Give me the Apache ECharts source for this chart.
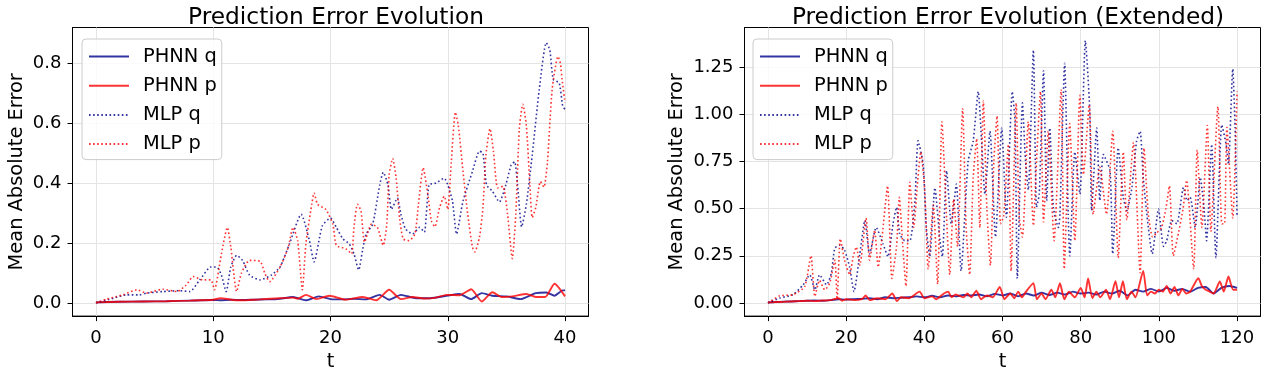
<!DOCTYPE html>
<html>
<head>
<meta charset="utf-8">
<script src="https://cdn.jsdelivr.net/npm/echarts@6/dist/echarts.min.js"></script>
<style>
html, body { margin: 0; padding: 0; background: #fff; }
#chart { width: 1270px; height: 376px; }
</style>
</head>
<body>
<div id="chart"></div>
<script>
// ---- data, [t, error] ----
const seriesNames = ['PHNN q', 'PHNN p', 'MLP q', 'MLP p']

const leftPhnnQ = [[0,0.002],[2,0.004],[4,0.005],[6,0.006],[8,0.008],[9,0.009],[10,0.01],[10.6,0.009],[11.5,0.011],[12.5,0.01],[13.5,0.011],[14.5,0.012],[15.5,0.013],[16.8,0.02],[17.9,0.009],[19,0.022],[20,0.013],[21,0.012],[22,0.014],[23,0.012],[24.2,0.027],[25,0.011],[26,0.027],[27.3,0.016],[28.5,0.016],[29.9,0.024],[31,0.03],[32,0.013],[32.9,0.033],[33.8,0.024],[35,0.022],[36.2,0.013],[37.5,0.033],[38.4,0.035],[39.1,0.024],[39.8,0.042],[40,0.042]]
const leftPhnnP = [[0,0.002],[2,0.004],[4,0.005],[6,0.006],[8,0.008],[10,0.011],[10.6,0.016],[12,0.009],[13,0.01],[14,0.012],[15.7,0.016],[16.8,0.018],[17.2,0.014],[17.9,0.027],[18.8,0.013],[19.9,0.024],[21.3,0.011],[22.75,0.02],[23.9,0.009],[25,0.044],[26,0.013],[27,0.02],[28,0.015],[29,0.018],[29.9,0.027],[31,0.026],[32,0.046],[32.9,0.005],[33.8,0.036],[34.6,0.02],[35.5,0.022],[36.7,0.03],[37.5,0.02],[38.3,0.02],[39.1,0.064],[40,0.022]]
const leftMlpQ = [[0,0],[1.5,0.016],[2.6,0.027],[3.7,0.027],[4.3,0.033],[5.7,0.038],[7.1,0.041],[8,0.038],[8.85,0.077],[9.8,0.12],[10.3,0.12],[10.7,0.093],[11.1,0.038],[11.5,0.12],[12,0.159],[12.5,0.142],[13.1,0.093],[14,0.077],[14.95,0.093],[15.7,0.12],[16.5,0.197],[17.5,0.296],[18.2,0.208],[18.6,0.137],[19.3,0.257],[20,0.283],[20.5,0.252],[21.05,0.214],[21.6,0.197],[22,0.164],[22.4,0.11],[22.75,0.18],[23.05,0.23],[23.6,0.263],[24.2,0.394],[24.5,0.436],[24.9,0.394],[25.2,0.312],[25.7,0.35],[26,0.296],[26.4,0.247],[27,0.23],[27.6,0.252],[28,0.236],[28.4,0.394],[29,0.4],[29.7,0.416],[30,0.394],[30.4,0.34],[30.75,0.23],[31.3,0.34],[32.1,0.438],[32.7,0.506],[33,0.5],[33.3,0.394],[33.8,0.373],[34.4,0.337],[34.95,0.394],[35.4,0.46],[35.7,0.471],[35.95,0.394],[36.3,0.254],[36.7,0.329],[37.2,0.493],[37.8,0.712],[38.4,0.868],[38.7,0.844],[39,0.745],[39.5,0.734],[39.8,0.657],[40,0.646]]
const leftMlpP = [[0,0],[0.9,0.013],[2.3,0.027],[3.5,0.044],[4.3,0.033],[5.7,0.046],[6.9,0.038],[7.7,0.06],[8.3,0.088],[9.1,0.077],[9.8,0.077],[10.1,0.044],[10.7,0.164],[11.2,0.252],[11.5,0.186],[12,0.038],[12.4,0.099],[13.1,0.142],[14,0.139],[14.4,0.099],[14.8,0.071],[15.7,0.12],[16.4,0.186],[16.8,0.252],[17.2,0.208],[17.6,0.044],[17.9,0.197],[18.4,0.329],[18.6,0.367],[18.9,0.329],[19.6,0.312],[20.2,0.263],[20.5,0.192],[21.3,0.181],[21.8,0.164],[22,0.252],[22.3,0.329],[22.6,0.307],[22.9,0.203],[23.5,0.263],[24,0.252],[24.5,0.192],[24.8,0.263],[25,0.427],[25.3,0.482],[25.6,0.416],[25.9,0.28],[26.2,0.214],[26.7,0.208],[27.2,0.23],[27.5,0.329],[27.9,0.451],[28.3,0.362],[28.6,0.274],[28.9,0.254],[29.3,0.318],[29.7,0.356],[30,0.312],[30.3,0.471],[30.65,0.636],[30.9,0.592],[31.3,0.438],[31.7,0.296],[32.1,0.186],[32.3,0.17],[32.7,0.219],[33,0.318],[33.25,0.493],[33.6,0.581],[33.9,0.504],[34.25,0.384],[34.7,0.389],[35.1,0.296],[35.5,0.148],[35.8,0.296],[36.1,0.581],[36.4,0.663],[36.7,0.592],[37,0.394],[37.2,0.285],[37.5,0.318],[37.9,0.405],[38.2,0.386],[38.5,0.471],[38.9,0.712],[39.4,0.822],[39.6,0.8],[39.75,0.745],[40,0.668]]

const extPhnnQ = [[0,0.003],[2,0.005],[4,0.007],[6,0.008],[8,0.01],[10,0.012],[12,0.013],[14,0.012],[16,0.015],[18,0.02],[20,0.018],[22,0.02],[24,0.022],[26,0.025],[28,0.02],[30,0.03],[32,0.025],[34,0.028],[36,0.03],[38,0.035],[40,0.03],[42,0.038],[44,0.03],[46,0.04],[48,0.035],[50,0.042],[52,0.04],[54,0.045],[56,0.035],[58,0.048],[60,0.04],[62,0.05],[64,0.035],[66,0.05],[68,0.04],[70,0.055],[72,0.042],[74,0.055],[76,0.045],[78,0.06],[80,0.05],[82,0.055],[84,0.045],[86,0.06],[88,0.05],[90,0.065],[92,0.04],[94,0.07],[96,0.06],[98,0.075],[100,0.06],[102,0.08],[104,0.065],[106,0.075],[108,0.06],[110,0.08],[112,0.085],[114,0.05],[116,0.08],[118,0.09],[120,0.08]]
const extPhnnP = [[0,0.003],[2,0.005],[4,0.006],[6,0.008],[8,0.01],[10,0.012],[12,0.01],[14,0.013],[16,0.015],[18,0.025],[19,0.012],[20,0.02],[22,0.015],[24,0.02],[25,0.04],[26,0.015],[28,0.025],[30,0.02],[31.8,0.05],[33,0.01],[34,0.03],[36,0.025],[38.8,0.06],[40,0.025],[42,0.035],[43,0.02],[45,0.05],[46.1,0.06],[47,0.03],[48,0.045],[50,0.03],[51,0.05],[52,0.03],[53.3,0.065],[54.5,0.02],[56,0.04],[57.5,0.03],[59.3,0.085],[60.5,0.02],[62,0.05],[63,0.025],[64,0.06],[65,0.03],[66,0.06],[67.9,0.105],[68.8,0.02],[70,0.05],[71,0.02],[72.5,0.07],[73.5,0.03],[74.7,0.105],[75.8,0.02],[77,0.06],[78.5,0.03],[80,0.08],[81,0.03],[81.9,0.13],[83,0.025],[84,0.06],[85,0.03],[86.5,0.07],[87.5,0.02],[88.9,0.115],[89.8,0.03],[90.8,0.115],[91.8,0.02],[93,0.06],[94,0.03],[96,0.17],[97,0.04],[98,0.06],[99,0.05],[100,0.07],[101,0.06],[102,0.09],[103,0.05],[104,0.085],[105,0.04],[106,0.075],[107,0.05],[108,0.06],[110.1,0.131],[111,0.09],[112,0.07],[113,0.06],[114,0.05],[115.6,0.114],[116.6,0.06],[117.8,0.14],[119,0.07],[120,0.07]]
const extMlpQ = [[0,0],[3,0.026],[6.4,0.044],[9,0.096],[10.7,0.149],[12,0.07],[13.2,0.149],[15,0.096],[16.2,0.157],[17.1,0.29],[18.4,0.306],[19.6,0.28],[20.9,0.19],[22,0.06],[23.5,0.26],[24.8,0.437],[26,0.26],[27.7,0.4],[29.4,0.315],[30.7,0.245],[32,0.42],[32.9,0.507],[33.7,0.367],[35,0.33],[36.3,0.33],[37.6,0.542],[38.4,0.86],[39.7,0.735],[40.5,0.4],[41.4,0.245],[42.7,0.61],[44,0.33],[44.6,0.245],[45.7,0.7],[46.9,0.42],[48.2,0.63],[49.4,0.17],[51.2,0.75],[52.5,0.857],[53.8,1.12],[54.6,0.875],[55.5,0.577],[56.8,0.91],[58.2,0.35],[59.8,0.927],[61,0.455],[62.5,1.12],[63.2,0.96],[63.8,0.13],[65.1,1.06],[65.9,0.75],[66.6,0.6],[67.9,1.34],[68.7,0.507],[69.4,0.577],[70.5,1.23],[71.3,0.542],[72.1,0.927],[73,0.507],[74.3,0.4],[74.7,0.472],[75.9,1.27],[76.8,0.472],[77.2,0.25],[78.5,0.8],[79.8,0.577],[81.2,1.39],[82.3,1.03],[82.8,0.49],[84.1,0.927],[84.9,0.542],[85.8,0.787],[87.5,0.7],[88.2,0.26],[89.6,0.822],[90.9,0.56],[91.8,0.49],[93.1,0.612],[94.3,0.857],[95.2,0.91],[96,0.665],[97.3,0.4],[98.3,0.26],[99.9,0.498],[101.2,0.3],[102,0.33],[103.3,0.437],[104.6,0.42],[106.3,0.612],[107.2,0.542],[108,0.56],[109.3,0.4],[110.6,0.665],[111.6,0.49],[112.2,0.33],[113.5,0.84],[114.6,0.24],[116.1,0.944],[117.2,0.84],[117.8,0.735],[118.9,1.24],[119.5,0.927],[120,0.46]]
const extMlpP = [[0,0],[3,0.038],[6.4,0.044],[9.4,0.087],[11,0.25],[12,0.035],[13.2,0.12],[14.5,0.07],[15.8,0.105],[17.1,0.227],[17.7,0.02],[18.5,0.34],[19.6,0.227],[20.9,0.149],[21.8,0.245],[22.6,0.297],[23.5,0.2],[25.1,0.45],[26,0.227],[27.3,0.385],[28.2,0.19],[29.2,0.35],[30.6,0.62],[31.7,0.13],[32.9,0.3],[33.6,0.56],[34.5,0.3],[35.3,0.09],[36.3,0.64],[37.3,0.4],[38.2,0.62],[39.1,0.8],[40.1,0.6],[41,0.18],[42.3,0.52],[43.4,0.1],[44.5,0.96],[45.7,0.45],[46.5,0.15],[47.5,0.55],[48.5,0.3],[49.8,1.03],[50.7,0.4],[51.6,0.15],[52.5,0.66],[53.4,0.87],[54.2,0.4],[55.1,1.07],[56,0.5],[56.9,0.2],[57.8,0.75],[58.6,0.99],[59.5,0.42],[60.3,0.46],[61.5,0.84],[62.2,0.17],[63.5,1.06],[64.3,0.45],[65.1,0.35],[66.6,0.96],[67.9,0.41],[68.7,0.75],[69.7,1.12],[70.5,0.43],[71.7,0.91],[73.2,0.33],[75,1.13],[75.8,0.18],[77.2,0.95],[78.5,0.33],[79.8,1.1],[80.7,0.68],[82.2,1.05],[83.2,0.47],[84.9,0.72],[86.6,0.47],[88.2,0.91],[89.6,0.24],[90.9,0.8],[91.8,0.44],[93.5,0.85],[95.2,0.16],[96.2,0.82],[97.3,0.47],[98.4,0.35],[99.4,0.37],[100.7,0.4],[101.8,0.5],[102.7,0.62],[103.7,0.25],[105,0.37],[106.2,0.5],[107.1,0.65],[108.9,0.18],[109.8,0.81],[111,0.4],[112.4,0.94],[113.3,0.38],[115.1,1.04],[116.1,0.42],[116.8,0.42],[117.4,0.93],[118.9,0.45],[120,1.12]]

// ---- ticks ----
const leftXTicks = [0, 10, 20, 30, 40]
const leftXLabels = ['0', '10', '20', '30', '40']
const leftYTicks = [0, 0.2, 0.4, 0.6, 0.8]
const leftYLabels = ['0.0', '0.2', '0.4', '0.6', '0.8']
const extXTicks = [0, 20, 40, 60, 80, 100, 120]
const extXLabels = ['0', '20', '40', '60', '80', '100', '120']
const extYTicks = [0, 0.25, 0.5, 0.75, 1.0, 1.25]
const extYLabels = ['0.00', '0.25', '0.50', '0.75', '1.00', '1.25']

const FONT = 'DejaVu Sans'
const BLUE = 'rgba(0, 0, 139, 0.8)'
const RED = 'rgba(255, 0, 0, 0.8)'

function axis(grid, min, max, ticks, labels, name, nameGap, labelMargin) {
    return {
        type: 'value', gridIndex: grid, min: min, max: max,
        name: name, nameLocation: 'middle', nameGap: nameGap,
        nameTextStyle: { fontFamily: FONT, fontSize: 19.4, color: '#000' },
        axisLine: { show: true, onZero: false, lineStyle: { color: '#000', width: 1 } },
        axisTick: { show: true, length: 5, customValues: ticks, lineStyle: { color: '#000', width: 1 } },
        axisLabel: {
            customValues: ticks, margin: labelMargin, fontFamily: FONT, fontSize: 18, color: '#000',
            formatter: v => labels[ticks.findIndex(t => Math.abs(t - v) < 1e-9)],
        },
        splitLine: { show: true, lineStyle: { color: '#e4e4e4', width: 1 } },
    }
}

function line(name, data, grid, color, dotted) {
    return {
        name: name, type: 'line', data: data,
        xAxisIndex: grid, yAxisIndex: grid,
        symbol: 'none', showSymbol: false, smooth: 0.2,
        color: color,
        itemStyle: { color: color },
        lineStyle: dotted ? { color: color, width: 1.6, type: [1.6, 2.5] } : { color: color, width: 1.9 },
        animation: false,
    }
}

function legend(left) {
    return {
        data: seriesNames, orient: 'vertical', left: left, top: 39,
        itemWidth: 40, itemHeight: 12, itemGap: 10.2,
        padding: [8, 5, 6, 6],
        backgroundColor: 'rgba(255,255,255,0.8)', borderColor: '#cccccc', borderWidth: 1, borderRadius: 4,
        itemStyle: { opacity: 0, color: 'transparent', borderWidth: 0 },
        textStyle: { fontFamily: FONT, fontSize: 19.4, color: '#000', padding: [0, 0, 0, 9] },
        selectedMode: false,
    }
}

const chart = echarts.init(document.getElementById('chart'))
chart.setOption({
    animation: false,
    title: [
        { text: 'Prediction Error Evolution', left: 331, top: 1, textAlign: 'center',
          textStyle: { fontFamily: FONT, fontSize: 23.3, fontWeight: 'normal', color: '#000' } },
        { text: 'Prediction Error Evolution (Extended)', left: 1003, top: 1, textAlign: 'center',
          textStyle: { fontFamily: FONT, fontSize: 23.3, fontWeight: 'normal', color: '#000' } },
    ],
    legend: [legend(82), legend(753)],
    grid: [
        { left: 72.5, top: 27.5, width: 516, height: 292, show: true, borderColor: '#000', borderWidth: 1 },
        { left: 744.5, top: 27.5, width: 516, height: 292, show: true, borderColor: '#000', borderWidth: 1 },
    ],
    xAxis: [
        axis(0, -2, 42, leftXTicks, leftXLabels, 't', 34, 13),
        axis(1, -6, 126, extXTicks, extXLabels, 't', 34, 13),
    ],
    yAxis: [
        axis(0, -0.04375, 0.91875, leftYTicks, leftYLabels, 'Mean Absolute Error', 46, 11),
        axis(1, -0.0695, 1.4595, extYTicks, extYLabels, 'Mean Absolute Error', 58, 11),
    ],
    series: [
        line('PHNN q', leftPhnnQ, 0, BLUE, false),
        line('PHNN p', leftPhnnP, 0, RED, false),
        line('MLP q', leftMlpQ, 0, BLUE, true),
        line('MLP p', leftMlpP, 0, RED, true),
        line('PHNN q', extPhnnQ, 1, BLUE, false),
        line('PHNN p', extPhnnP, 1, RED, false),
        line('MLP q', extMlpQ, 1, BLUE, true),
        line('MLP p', extMlpP, 1, RED, true),
    ],
})
</script>
</body>
</html>
